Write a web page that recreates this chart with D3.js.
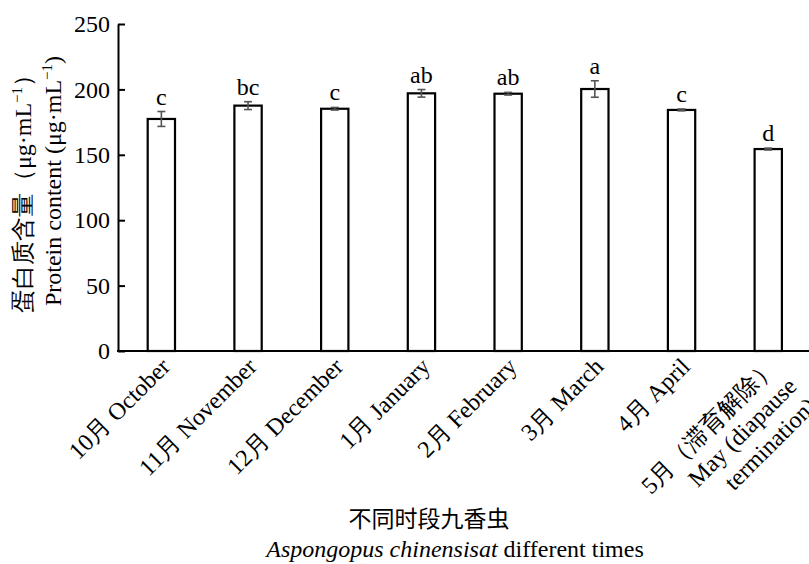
<!DOCTYPE html>
<html><head><meta charset="utf-8">
<script src="https://cdn.jsdelivr.net/npm/d3@7"></script>
<style>body{margin:0;background:#fff;} svg{display:block;} text{font-family:"Liberation Serif","Times New Roman",serif;fill:#000;}</style>
</head><body>
<svg id="chart" width="809" height="564"></svg>
<script>
const categories = [
  ["10月 October"],
  ["11月 November"],
  ["12月 December"],
  ["1月 January"],
  ["2月 February"],
  ["3月 March"],
  ["4月 April"],
  ["5月（滞育解除）", "May (diapause", "termination)"]
];
const values = [177.4, 187.6, 185.2, 197.0, 196.7, 200.3, 184.3, 154.4];
const errors = [5.7, 3.0, 1.0, 2.9, 1.0, 6.3, 0.7, 0.7];
const letters = ["c", "bc", "c", "ab", "ab", "a", "c", "d"];
const yTicks = [0, 50, 100, 150, 200, 250];

const svg = d3.select("#chart");
const x0 = 118, yBase = 351, yTop = 24;
const step = 86.7;
const x = d3.scaleBand().domain(d3.range(categories.length))
  .range([x0, x0 + step * categories.length]).paddingInner(0.685).paddingOuter(0.3425);
const y = d3.scaleLinear().domain([0, 250]).range([yBase, yTop]);

// bars
svg.append("g").selectAll("rect").data(values).join("rect")
  .attr("x", (d, i) => x(i)).attr("y", d => y(d))
  .attr("width", x.bandwidth()).attr("height", d => yBase - y(d))
  .attr("fill", "#fff").attr("stroke", "#000").attr("stroke-width", 2.2);

// error bars
const eg = svg.append("g").attr("stroke", "#555").attr("stroke-width", 1.6);
values.forEach((v, i) => {
  const cx = x(i) + x.bandwidth() / 2;
  const hi = y(v + errors[i]), lo = y(v - errors[i]);
  eg.append("line").attr("x1", cx).attr("x2", cx).attr("y1", hi).attr("y2", lo);
  eg.append("line").attr("x1", cx - 4).attr("x2", cx + 4).attr("y1", hi).attr("y2", hi);
  eg.append("line").attr("x1", cx - 4).attr("x2", cx + 4).attr("y1", lo).attr("y2", lo);
});

// letters
svg.append("g").selectAll("text").data(letters).join("text")
  .attr("x", (d, i) => x(i) + x.bandwidth() / 2)
  .attr("y", (d, i) => y(values[i] + errors[i]) - 7)
  .attr("text-anchor", "middle").attr("font-size", 24).text(d => d);

// y axis
const yAxis = d3.axisLeft(y).tickValues(yTicks).tickSizeInner(-7).tickSizeOuter(0).tickPadding(8);
const yg = svg.append("g").attr("transform", `translate(${x0},0)`).call(yAxis);
yg.select(".domain").attr("stroke", "#000").attr("stroke-width", 2);
yg.selectAll(".tick line").attr("stroke", "#000").attr("stroke-width", 2);
yg.selectAll(".tick text").attr("font-size", 24).attr("fill", "#000");

// x axis line
const xAxis = d3.axisBottom(x).tickSize(0).tickFormat("");
const xg = svg.append("g").attr("transform", `translate(0,${yBase})`).call(xAxis);
xg.select(".domain").attr("stroke", "#000").attr("stroke-width", 2).attr("d", `M${x0 - 1},0H809`);

// x labels
categories.forEach((lines, i) => {
  const cx = x(i) + x.bandwidth() / 2;
  const t = svg.append("text")
    .attr("transform", `translate(${cx + 10},${yBase + 17}) rotate(-45)`)
    .attr("text-anchor", "end").attr("font-size", 24);
  lines.forEach((l, j) => {
    t.append("tspan").attr("x", 0).attr("dy", j === 0 ? 0 : 28).text(l);
  });
});

// y title
const yt = svg.append("text").attr("transform", "translate(31,188) rotate(-90)")
  .attr("text-anchor", "middle").attr("font-size", 24);
yt.append("tspan").text("蛋白质含量（μg·mL");
yt.append("tspan").attr("font-size", 15).attr("dy", -9).text("−1");
yt.append("tspan").attr("dy", 9).text("）");
const yt2 = svg.append("text").attr("transform", "translate(61,181) rotate(-90)")
  .attr("text-anchor", "middle").attr("font-size", 24);
yt2.append("tspan").text("Protein content (μg·mL");
yt2.append("tspan").attr("font-size", 15).attr("dy", -9).text("−1");
yt2.append("tspan").attr("dy", 9).text(")");

// x title
svg.append("text").attr("x", 429).attr("y", 527).attr("text-anchor", "middle")
  .attr("font-size", 23).style("font-family", "'Noto Sans CJK SC', sans-serif").text("不同时段九香虫");
const xt = svg.append("text").attr("x", 455).attr("y", 557).attr("text-anchor", "middle").attr("font-size", 24);
xt.append("tspan").attr("font-style", "italic").text("Aspongopus chinensisat");
xt.append("tspan").text(" different times");
</script>
</body></html>
